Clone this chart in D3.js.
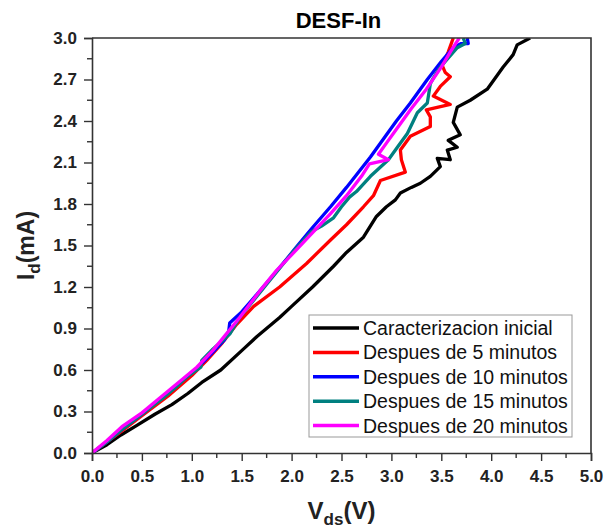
<!DOCTYPE html>
<html>
<head>
<meta charset="utf-8">
<script src="https://cdn.jsdelivr.net/npm/d3@7"></script>
<style>
  body { margin: 0; background: #fff; }
  svg { display: block; font-family: Arial, "Liberation Sans", sans-serif; }
</style>
</head>
<body>
<svg id="chart" width="605" height="529"></svg>
<script>
// Vds (V), Id (mA) pairs
const inicial = [[0,0],[0.15,0.06],[0.29,0.13],[0.45,0.2],[0.63,0.28],[0.8,0.35],[0.96,0.43],[1.1,0.51],[1.29,0.6],[1.53,0.76],[1.65,0.84],[1.88,0.98],[2.0,1.06],[2.21,1.2],[2.42,1.35],[2.55,1.45],[2.72,1.56],[2.85,1.71],[2.95,1.78],[3.04,1.83],[3.09,1.88],[3.2,1.92],[3.29,1.95],[3.39,2.0],[3.49,2.07],[3.46,2.13],[3.59,2.12],[3.56,2.19],[3.66,2.21],[3.57,2.26],[3.69,2.3],[3.62,2.39],[3.66,2.5],[3.79,2.55],[3.96,2.63],[4.05,2.72],[4.12,2.79],[4.22,2.88],[4.26,2.95],[4.39,3.0]];
const min5 = [[0,0],[0.15,0.08],[0.3,0.16],[0.5,0.27],[0.76,0.41],[1.0,0.56],[1.15,0.67],[1.31,0.8],[1.45,0.93],[1.62,1.06],[1.88,1.2],[2.15,1.37],[2.39,1.54],[2.55,1.65],[2.72,1.78],[2.82,1.86],[2.89,1.97],[3.14,2.03],[3.1,2.12],[3.09,2.19],[3.19,2.29],[3.39,2.36],[3.39,2.43],[3.35,2.48],[3.59,2.52],[3.42,2.58],[3.49,2.65],[3.59,2.72],[3.54,2.75],[3.51,2.8],[3.57,2.9],[3.62,3.0]];
const min10 = [[0,0],[0.15,0.08],[0.3,0.17],[0.5,0.28],[0.7,0.4],[0.9,0.52],[1.05,0.61],[1.2,0.72],[1.33,0.82],[1.37,0.88],[1.38,0.94],[1.5,1.02],[1.62,1.12],[1.88,1.34],[2.05,1.49],[2.21,1.63],[2.39,1.78],[2.55,1.92],[2.79,2.14],[3.05,2.4],[3.19,2.53],[3.36,2.7],[3.5,2.83],[3.62,2.93],[3.7,2.96],[3.77,2.96],[3.76,3.0]];
const min15 = [[0,0],[0.15,0.08],[0.3,0.17],[0.5,0.28],[0.7,0.39],[0.85,0.48],[0.95,0.55],[1.09,0.62],[1.1,0.67],[1.21,0.75],[1.38,0.86],[1.48,0.98],[1.75,1.22],[2.02,1.46],[2.2,1.6],[2.3,1.64],[2.42,1.7],[2.5,1.78],[2.58,1.85],[2.65,1.89],[2.79,2.0],[2.97,2.12],[3.06,2.21],[3.16,2.31],[3.26,2.46],[3.36,2.53],[3.39,2.67],[3.42,2.71],[3.49,2.79],[3.66,2.93],[3.74,2.96],[3.72,3.0]];
const min20 = [[0,0],[0.15,0.09],[0.3,0.19],[0.5,0.29],[0.7,0.41],[0.9,0.53],[1.05,0.62],[1.21,0.74],[1.48,0.98],[1.68,1.17],[1.85,1.32],[2.05,1.47],[2.22,1.6],[2.39,1.73],[2.55,1.86],[2.7,2.0],[2.78,2.09],[2.97,2.12],[2.87,2.16],[2.95,2.24],[3.05,2.34],[3.2,2.49],[3.35,2.63],[3.5,2.79],[3.6,2.91],[3.68,3.0]];

const seriesNames = ["Caracterizacion inicial", "Despues de 5 minutos", "Despues de 10 minutos", "Despues de 15 minutos", "Despues de 20 minutos"];
const seriesData = [inicial, min5, min10, min15, min20];
const colours = ["#000000", "#ff0000", "#0000ff", "#008080", "#ff00ff"];

const xMajor = [0, 0.5, 1, 1.5, 2, 2.5, 3, 3.5, 4, 4.5, 5];
const yMajor = [0, 0.3, 0.6, 0.9, 1.2, 1.5, 1.8, 2.1, 2.4, 2.7, 3.0];

const W = 605, H = 529;
const m = { top: 38, right: 14, bottom: 76, left: 92 };
const iW = W - m.left - m.right;
const iH = H - m.top - m.bottom;

const svg = d3.select("#chart");
const g = svg.append("g").attr("transform", `translate(${m.left},${m.top})`);

const x = d3.scaleLinear().domain([0, 5]).range([0, iW]);
const y = d3.scaleLinear().domain([0, 3]).range([iH, 0]);

// title
svg.append("text")
  .attr("x", m.left + iW / 2 - 3).attr("y", 28)
  .attr("text-anchor", "middle")
  .style("font-size", "22px").style("font-weight", "bold")
  .text("DESF-In");

// curves, clipped to the frame
svg.append("defs").append("clipPath").attr("id", "clip")
  .append("rect").attr("width", iW).attr("height", iH);

const line = d3.line().x(d => x(d[0])).y(d => y(d[1]));
g.append("g").attr("clip-path", "url(#clip)")
  .selectAll("path").data(seriesData).join("path")
  .attr("d", line)
  .attr("fill", "none")
  .attr("stroke", (d, i) => colours[i])
  .attr("stroke-width", 3.3)
  .attr("stroke-linejoin", "round");

// axes
const xMinor = d3.range(0.25, 5, 0.5);
const yMinor = d3.range(0.15, 3, 0.3);

g.append("g")
  .attr("transform", `translate(0,${iH})`)
  .call(d3.axisBottom(x).tickValues(xMajor).tickSize(8).tickFormat(d3.format(".1f")))
  .call(ax => {
    ax.select(".domain").attr("stroke", "#333").attr("stroke-width", 1.6);
    ax.selectAll(".tick line").attr("stroke", "#333").attr("stroke-width", 1.4);
    ax.selectAll(".tick text").style("fill", "#222").style("font-size", "17px").style("font-weight", "bold").attr("dy", "1.05em");
  });
g.append("g")
  .attr("transform", `translate(0,${iH})`)
  .selectAll("line").data(xMinor).join("line")
  .attr("x1", d => x(d)).attr("x2", d => x(d))
  .attr("y1", 0).attr("y2", 5)
  .attr("stroke", "#333").attr("stroke-width", 1.4);

g.append("g")
  .call(d3.axisLeft(y).tickValues(yMajor).tickSize(8).tickFormat(d3.format(".1f")))
  .call(ax => {
    ax.select(".domain").attr("stroke", "#333").attr("stroke-width", 1.6);
    ax.selectAll(".tick line").attr("stroke", "#333").attr("stroke-width", 1.4);
    ax.selectAll(".tick text").style("fill", "#222").style("font-size", "17px").style("font-weight", "bold").attr("dx", "-4px");
  });
g.append("g")
  .selectAll("line").data(yMinor).join("line")
  .attr("x1", -5).attr("x2", 0)
  .attr("y1", d => y(d)).attr("y2", d => y(d))
  .attr("stroke", "#333").attr("stroke-width", 1.4);

// top and right frame
g.append("path")
  .attr("d", `M0,0H${iW}V${iH}`)
  .attr("fill", "none").attr("stroke", "#333").attr("stroke-width", 1.6);

// axis titles
const xt = svg.append("text")
  .attr("x", m.left + iW / 2).attr("y", 519)
  .attr("text-anchor", "middle")
  .style("font-size", "24px").style("font-weight", "bold").style("fill", "#222");
xt.append("tspan").text("V");
xt.append("tspan").attr("dy", 6).style("font-size", "17px").text("ds");
xt.append("tspan").attr("dy", -6).text("(V)");

const yt = svg.append("text")
  .attr("transform", `translate(34,${m.top + iH / 2}) rotate(-90)`)
  .attr("text-anchor", "middle")
  .style("font-size", "23px").style("font-weight", "bold").style("fill", "#222");
yt.append("tspan").text("I");
yt.append("tspan").attr("dy", 6).style("font-size", "17px").text("d");
yt.append("tspan").attr("dy", -6).text("(mA)");

// legend
const lg = svg.append("g").attr("transform", "translate(309,315)");
lg.append("rect")
  .attr("width", 263).attr("height", 122)
  .attr("fill", "#fff").attr("stroke", "#999").attr("stroke-width", 1);
const rows = lg.selectAll(".row").data(seriesNames).join("g")
  .attr("class", "row")
  .attr("transform", (d, i) => `translate(0,${13 + i * 24.4})`);
rows.append("line")
  .attr("x1", 4).attr("x2", 50)
  .attr("stroke", (d, i) => colours[i]).attr("stroke-width", 3.5);
rows.append("text")
  .attr("x", 54).attr("dy", "0.36em")
  .style("font-size", "19.5px").style("fill", "#111")
  .text(d => d);
</script>
</body>
</html>
